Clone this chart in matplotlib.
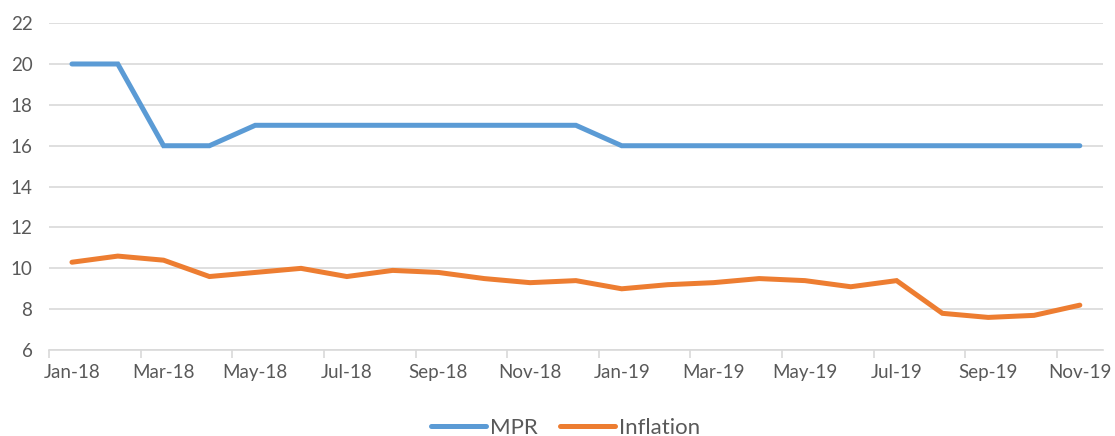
import matplotlib.pyplot as plt
import numpy as np

months = ['Jan-18', 'Feb-18', 'Mar-18', 'Apr-18', 'May-18', 'Jun-18', 'Jul-18',
          'Aug-18', 'Sep-18', 'Oct-18', 'Nov-18', 'Dec-18', 'Jan-19', 'Feb-19',
          'Mar-19', 'Apr-19', 'May-19', 'Jun-19', 'Jul-19', 'Aug-19', 'Sep-19',
          'Oct-19', 'Nov-19']
mpr = [20, 20, 16, 16, 17, 17, 17, 17, 17, 17, 17, 17, 16, 16,
       16, 16, 16, 16, 16, 16, 16, 16, 16]
inflation = [10.3, 10.6, 10.4, 9.6, 9.8, 10.0, 9.6, 9.9, 9.8, 9.5, 9.3, 9.4,
             9.0, 9.2, 9.3, 9.5, 9.4, 9.1, 9.4, 7.8, 7.6, 7.7, 8.2]

plt.rcParams['font.family'] = ['Lato', 'DejaVu Sans']
grey = '#595959'

fig = plt.figure(figsize=(11.15, 4.36), dpi=100)
ax = fig.add_axes([0.044, 0.197, 0.945, 0.75])

x = np.arange(len(months))
ax.plot(x, mpr, color='#5B9BD5', lw=3.6, label='MPR', solid_capstyle='round', solid_joinstyle='miter')
ax.plot(x, inflation, color='#ED7D31', lw=3.6, label='Inflation', solid_capstyle='round', solid_joinstyle='miter')

ax.set_xlim(-0.5, len(months) - 0.5)
ax.set_ylim(6, 22)
ax.set_yticks(range(6, 23, 2))
ax.yaxis.grid(True, color='#D9D9D9', lw=1.2)
ax.set_axisbelow(True)

# labels on every other month, tick marks between them
ax.set_xticks(x[::2])
ax.set_xticklabels(months[::2])
ax.set_xticks(np.arange(-0.5, len(months) - 0.5, 2), minor=True)
ax.tick_params(axis='x', which='major', length=0, pad=10, labelsize=13.5, labelcolor=grey)
ax.tick_params(axis='x', which='minor', length=6, color='#D9D9D9', width=1.2)
ax.tick_params(axis='y', length=0, pad=12, labelsize=13.5, labelcolor=grey)

for s in ['top', 'right', 'left']:
    ax.spines[s].set_visible(False)
ax.spines['bottom'].set_color('#D9D9D9')
ax.spines['bottom'].set_linewidth(1.2)

leg = fig.legend(loc='center', bbox_to_anchor=(0.507, 0.018), ncol=2, frameon=False,
                 fontsize=16, handlelength=2.5, columnspacing=1.0, handletextpad=0.15)
for t in leg.get_texts():
    t.set_color(grey)

fig.savefig('out.png')
